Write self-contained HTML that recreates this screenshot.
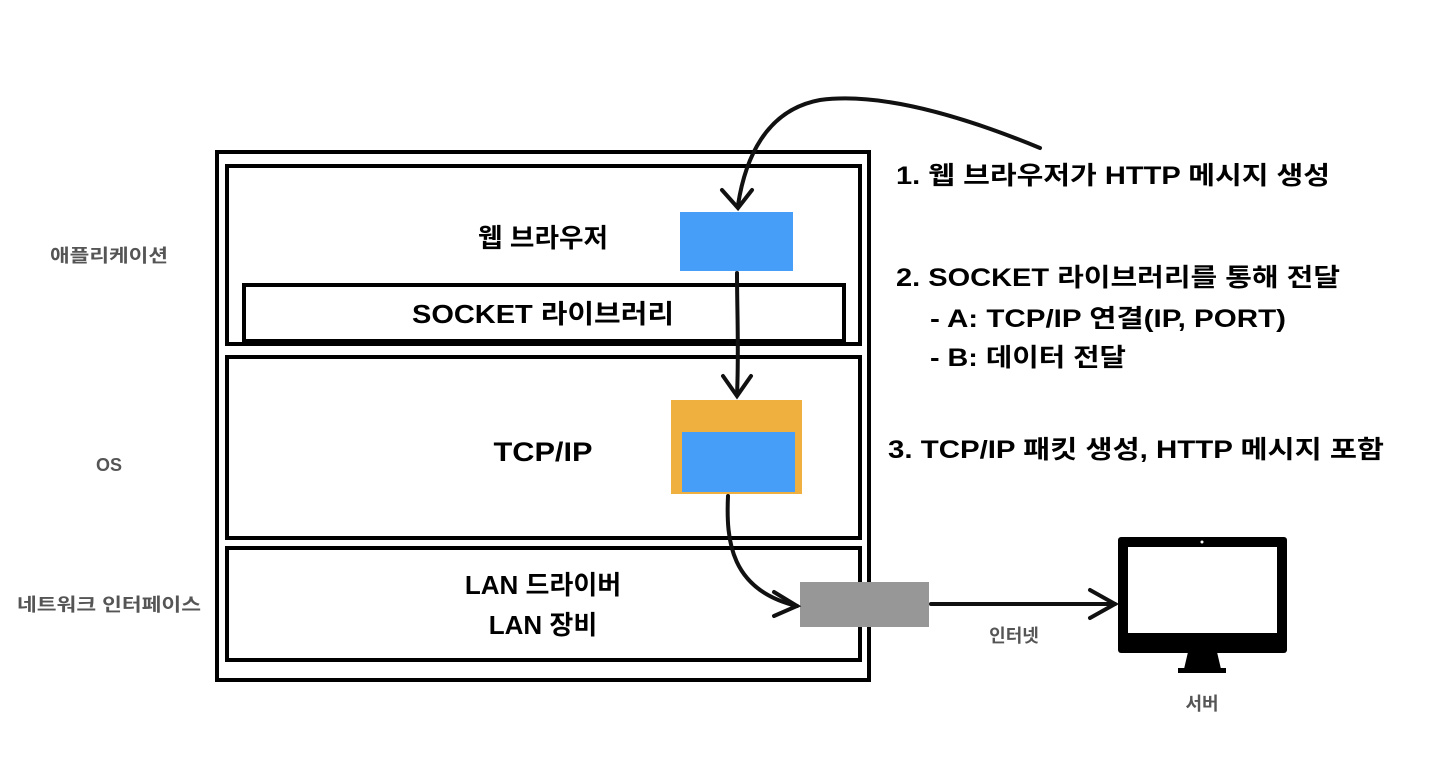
<!DOCTYPE html>
<html><head><meta charset="utf-8"><style>
html,body{margin:0;padding:0;background:#fff;}
svg{display:block;}
text{font-family:"Liberation Sans","Noto Sans CJK KR",sans-serif;font-weight:bold;}
</style></head><body>
<svg width="1436" height="762" viewBox="0 0 1436 762" xmlns="http://www.w3.org/2000/svg">
<rect width="1436" height="762" fill="#fff"/>
<rect x="217" y="152" width="652" height="528" fill="none" stroke="#000" stroke-width="4"/>
<rect x="227" y="166" width="633" height="178" fill="none" stroke="#000" stroke-width="4"/>
<rect x="244" y="285" width="600" height="56" fill="none" stroke="#000" stroke-width="4"/>
<rect x="227" y="357" width="633" height="181" fill="none" stroke="#000" stroke-width="4"/>
<rect x="227" y="548" width="633" height="112" fill="none" stroke="#000" stroke-width="4"/>
<rect x="680" y="212" width="113" height="59" fill="#479ef8"/>
<rect x="671" y="400" width="131" height="94" fill="#f0b03f"/>
<rect x="682" y="432" width="113" height="60" fill="#479ef8"/>
<rect x="800" y="582" width="129" height="45" fill="#979797"/>
<g fill="none" stroke="#111" stroke-width="4" stroke-linecap="round">
<path d="M1040 148 C960 115 880 92 820 100 C765 110 745 160 738 205"/>
<path d="M722 190 L738 208 L752 190"/>
<path d="M737 273 C737 310 739 350 737 395"/>
<path d="M723 376 L737 396 L751 376"/>
<path d="M728 496 C726 540 730 590 797 606"/>
<path d="M774 592 L797 606 L774 616"/>
<path d="M931 604 L1115 604"/>
<path d="M1090 590 L1115 604 L1090 618"/>
</g>
<rect x="1118" y="537" width="169" height="116" rx="3" fill="#000"/>
<rect x="1128" y="547" width="149" height="86" fill="#fff"/>
<circle cx="1202" cy="542" r="1.5" fill="#fff"/>
<path d="M1188 652 L1217 652 L1221 669 L1184 669 Z" fill="#000"/>
<rect x="1178" y="668" width="48" height="5" fill="#000"/>
<text x="543" y="247" font-size="26" text-anchor="middle" fill="#000" textLength="130" lengthAdjust="spacingAndGlyphs">웹 브라우저</text>
<text x="543" y="323" font-size="26" text-anchor="middle" fill="#000" textLength="262" lengthAdjust="spacingAndGlyphs">SOCKET 라이브러리</text>
<text x="543" y="461" font-size="27" text-anchor="middle" fill="#000" textLength="99" lengthAdjust="spacingAndGlyphs">TCP/IP</text>
<text x="543" y="594" font-size="26" text-anchor="middle" fill="#000">LAN 드라이버</text>
<text x="543" y="634" font-size="26" text-anchor="middle" fill="#000">LAN 장비</text>
<text x="109" y="262" font-size="18" text-anchor="middle" fill="#555" textLength="118" lengthAdjust="spacingAndGlyphs">애플리케이션</text>
<text x="109" y="471" font-size="18" text-anchor="middle" fill="#555">OS</text>
<text x="109" y="611" font-size="18" text-anchor="middle" fill="#555" textLength="184" lengthAdjust="spacingAndGlyphs">네트워크 인터페이스</text>
<text x="1014" y="642" font-size="18" text-anchor="middle" fill="#555">인터넷</text>
<text x="1202" y="710" font-size="18" text-anchor="middle" fill="#555">서버</text>
<text x="896" y="184" font-size="25" fill="#000" textLength="434" lengthAdjust="spacingAndGlyphs">1. 웹 브라우저가 HTTP 메시지 생성</text>
<text x="896" y="286" font-size="25" fill="#000" textLength="444" lengthAdjust="spacingAndGlyphs">2. SOCKET 라이브러리를 통해 전달</text>
<text x="930" y="327" font-size="25" fill="#000" textLength="356" lengthAdjust="spacingAndGlyphs">- A: TCP/IP 연결(IP, PORT)</text>
<text x="930" y="366" font-size="25" fill="#000" textLength="196" lengthAdjust="spacingAndGlyphs">- B: 데이터 전달</text>
<text x="888" y="458" font-size="25" fill="#000" textLength="496" lengthAdjust="spacingAndGlyphs">3. TCP/IP 패킷 생성, HTTP 메시지 포함</text>
</svg>
</body></html>
